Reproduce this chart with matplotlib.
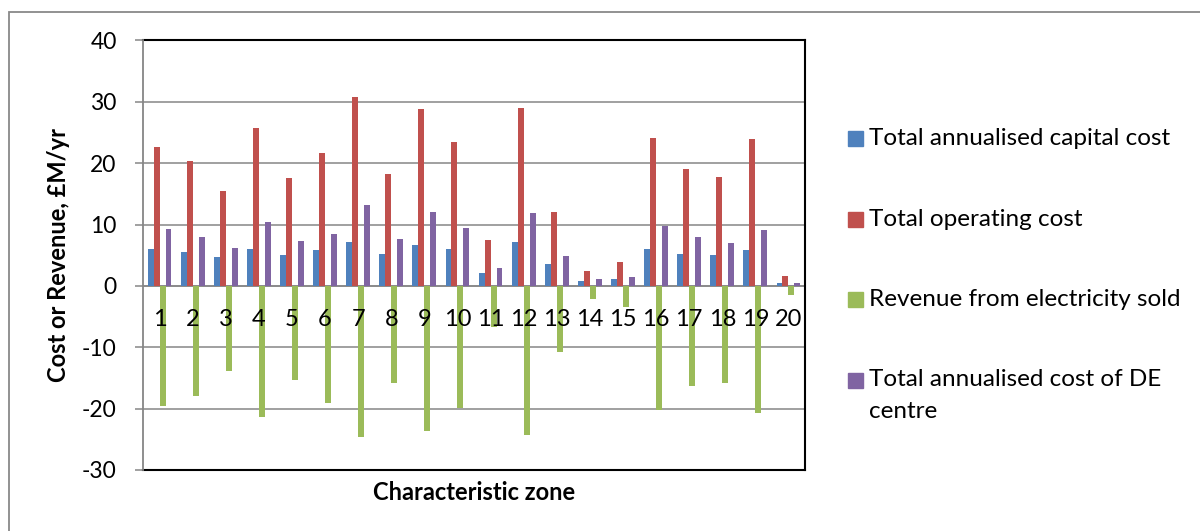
import numpy as np
import matplotlib.pyplot as plt
from matplotlib.patches import Rectangle

plt.rcParams['font.family'] = ['Lato', 'DejaVu Sans']

zones = [str(i) for i in range(1, 21)]
capital = [6.0, 5.5, 4.7, 6.0, 5.1, 5.9, 7.1, 5.2, 6.6, 6.0,
           2.1, 7.1, 3.6, 0.8, 1.2, 6.0, 5.2, 5.1, 5.9, 0.4]
operating = [22.7, 20.3, 15.4, 25.7, 17.6, 21.6, 30.7, 18.2, 28.9, 23.4,
             7.4, 29.0, 12.0, 2.5, 3.9, 24.1, 19.1, 17.8, 23.9, 1.6]
revenue = [-19.5, -17.9, -13.9, -21.3, -15.4, -19.1, -24.7, -15.9, -23.6, -19.9,
           -6.7, -24.3, -10.7, -2.2, -3.5, -20.3, -16.3, -15.9, -20.7, -1.5]
total_de = [9.2, 8.0, 6.1, 10.4, 7.3, 8.5, 13.1, 7.6, 12.0, 9.5,
            2.9, 11.8, 4.8, 1.1, 1.5, 9.8, 8.0, 7.0, 9.1, 0.5]

series = [capital, operating, revenue, total_de]
names = ["Total annualised capital cost", "Total operating cost",
         "Revenue from electricity sold", "Total annualised cost of DE\ncentre"]
colors = ["#4F81BD", "#C0504D", "#9BBB59", "#8064A2"]
yticks = [-30, -20, -10, 0, 10, 20, 30, 40]

W, H = 1200, 531
fig = plt.figure(figsize=(W / 100, H / 100), dpi=100)
ax = fig.add_axes([143 / W, 1 - 470 / H, 662 / W, 429.6 / H])

x = np.arange(1, 21)
w = 0.18
for k, (vals, c) in enumerate(zip(series, colors)):
    ax.bar(x + (k - 1.5) * w, vals, w, color=c, zorder=3)

ax.set_xlim(0.5, 20.5)
ax.set_ylim(-30, 40)
ax.set_yticks(yticks)
ax.set_yticklabels([str(v) for v in yticks], fontsize=16.5)
ax.set_xticks([])
ax.grid(axis='y', color='#868686', lw=1.1, zorder=1)
ax.axhline(0, color='#868686', lw=1.1, zorder=2)
ax.tick_params(axis='y', length=6, width=1.1, color='#868686', pad=13)
for s in ['top', 'right', 'bottom']:
    ax.spines[s].set_color('black')
    ax.spines[s].set_linewidth(1.5)
ax.spines['left'].set_color('#868686')
ax.spines['left'].set_linewidth(1.3)
ax.spines['left'].set_zorder(5)

# zone numbers sit a little below the zero line
for xi, lab in zip(x, zones):
    ax.annotate(lab, xy=(xi, 0), xytext=(0, -34), textcoords='offset pixels',
                ha='center', va='center', fontsize=17, zorder=6)

fig.text(474 / W, 1 - 492 / H, "Characteristic zone", ha='center', va='center',
         fontsize=17, fontweight='bold')
fig.text(58 / W, 1 - 255 / H, "Cost or Revenue, £M/yr", ha='center', va='center',
         rotation=90, fontsize=17, fontweight='bold')

# legend
ly = [138.5, 219, 299.5, 380]
for name, c, yy in zip(names, colors, ly):
    fig.add_artist(Rectangle((848 / W, 1 - (yy + 7.5) / H), 15 / W, 15 / H,
                             transform=fig.transFigure, color=c))
    lines = name.split('\n')
    for j, line in enumerate(lines):
        fig.text(869 / W, 1 - (yy + 32 * j) / H, line, ha='left', va='center',
                 fontsize=17.5, transform=fig.transFigure)

# chart border
fig.add_artist(Rectangle((8.5 / W, -0.1), 1.2, 1 - 11.5 / H + 0.1,
                         transform=fig.transFigure, fill=False,
                         edgecolor='#898989', lw=1.3))

fig.savefig("out.png", dpi=100)
